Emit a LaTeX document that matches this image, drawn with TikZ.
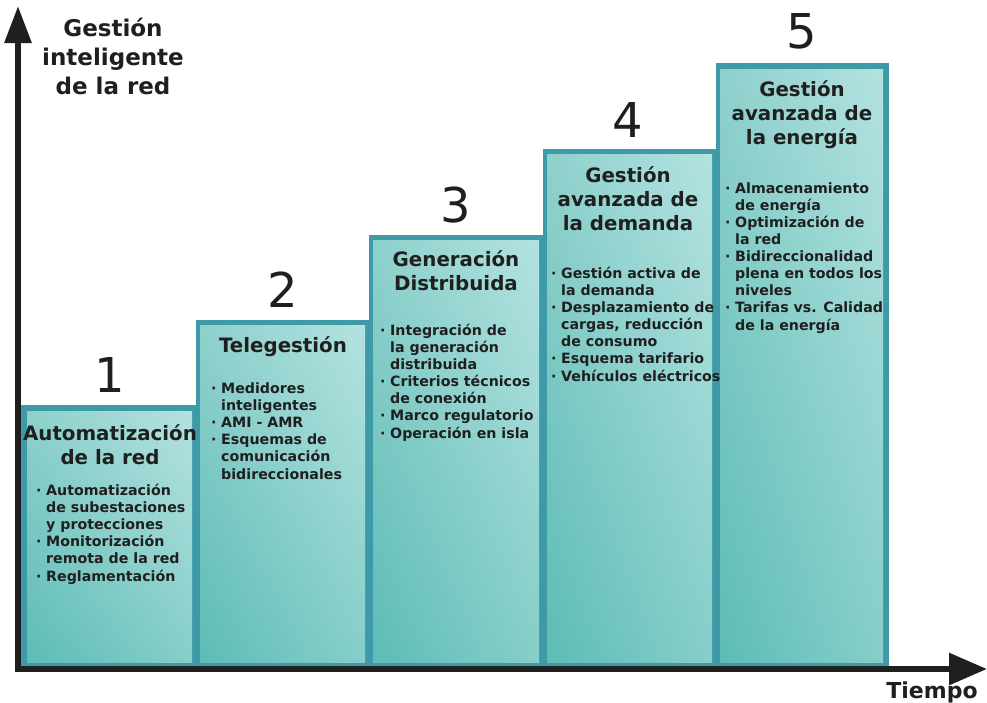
\documentclass[tikz,border=0pt]{standalone}
\usepackage{fontspec}
\setmainfont{DejaVu Sans}
\usetikzlibrary{arrows.meta,shadings}
\definecolor{frameteal}{HTML}{3E9AA6}
\definecolor{cul}{HTML}{8ED0CC}
\definecolor{cur}{HTML}{B3E2E0}
\definecolor{cll}{HTML}{5DBCB6}
\definecolor{clr}{HTML}{86CEC9}
\definecolor{inktext}{HTML}{1F1F1F}
\newcommand\bi{\makebox[10pt][l]{·}}
\newcommand\ci{\hspace*{10pt}}
\begin{document}
\begin{tikzpicture}[x=1pt,y=-1pt,
  outerbox/.style={fill=frameteal},
  innerbox/.style={upper left=cul, upper right=cur, lower left=cll, lower right=clr},
  numlabel/.style={anchor=base, inner sep=0, font=\fontsize{48}{48}\selectfont, text=inktext},
  titlelabel/.style={anchor=base, inner sep=0, align=center, font=\fontsize{19.8}{24}\selectfont\bfseries, text=inktext},
  bullets/.style={anchor=base west, inner sep=0, align=left, font=\fontsize{14.2}{17.1}\selectfont\bfseries, text=inktext},
  axislabel/.style={anchor=base, inner sep=0, align=center, font=\fontsize{23}{29}\selectfont\bfseries, text=inktext},
  yaxisline/.style={line width=6pt, draw=inktext, -{Triangle[length=37pt,width=26pt]}},
  xaxisline/.style={line width=6pt, draw=inktext, -{Triangle[length=38pt,width=31pt]}}
]
\useasboundingbox (0,0) rectangle (987,702);
% boxes
\fill[outerbox] (21,405) rectangle (196,667);
\fill[outerbox] (196,320) rectangle (369,667);
\fill[outerbox] (369,235) rectangle (543,667);
\fill[outerbox] (543,149) rectangle (716,667);
\fill[outerbox] (716,63) rectangle (889,667);
\shade[innerbox] (27,411) rectangle (192,662);
\shade[innerbox] (200,325) rectangle (365,662);
\shade[innerbox] (373,240) rectangle (539,662);
\shade[innerbox] (547,154) rectangle (712,662);
\shade[innerbox] (720,69) rectangle (883,662);
% axes
\coordinate (ytip) at (18,6);
\coordinate (xtip) at (987,669);
\coordinate (ystart) at (18,672);
\coordinate (xstart) at (15,669);
\draw[yaxisline] (ystart) -- (ytip);
\draw[xaxisline] (xstart) -- (xtip);
\node[axislabel] (ylab) at (113,94) {Gestión\\inteligente\\de la red};
\node[anchor=base, inner sep=0, font=\fontsize{22}{26}\selectfont\bfseries, text=inktext] (xlab) at (932,698) {Tiempo};
% numbers
\node[numlabel] (n1) at (110,392) {1};
\node[numlabel] (n2) at (283,307) {2};
\node[numlabel] (n3) at (456,222) {3};
\node[numlabel] (n4) at (628,137) {4};
\node[numlabel] (n5) at (802,48) {5};
% titles (base anchor = baseline of last line)
\node[titlelabel] (t1) at (110,464) {Automatización\\de la red};
\node[titlelabel] (t2) at (283,352) {Telegestión};
\node[titlelabel] (t3) at (456,290) {Generación\\Distribuida};
\node[titlelabel] (t4) at (628,230) {Gestión\\avanzada de\\la demanda};
\node[titlelabel] (t5) at (802,144) {Gestión\\avanzada de\\la energía};
% bullets (base anchor = baseline of last line)
\node[bullets] (b1) at (36,581) {\bi Automatización\\\ci de subestaciones\\\ci y protecciones\\\bi Monitorización\\\ci remota de la red\\\bi Reglamentación};
\node[bullets] (b2) at (211,479) {\bi Medidores\\\ci inteligentes\\\bi AMI - AMR\\\bi Esquemas de\\\ci comunicación\\\ci bidireccionales};
\node[bullets] (b3) at (380,438) {\bi Integración de\\\ci la generación\\\ci distribuida\\\bi Criterios técnicos\\\ci de conexión\\\bi Marco regulatorio\\\bi Operación en isla};
\node[bullets] (b4) at (551,381) {\bi Gestión activa de\\\ci la demanda\\\bi Desplazamiento de\\\ci cargas, reducción\\\ci de consumo\\\bi Esquema tarifario\\\bi Vehículos eléctricos};
\node[bullets] (b5) at (725,330) {\bi Almacenamiento\\\ci de energía\\\bi Optimización de\\\ci la red\\\bi Bidireccionalidad\\\ci plena en todos los\\\ci niveles\\\bi Tarifas vs. Calidad\\\ci de la energía};
\end{tikzpicture}
\end{document}
